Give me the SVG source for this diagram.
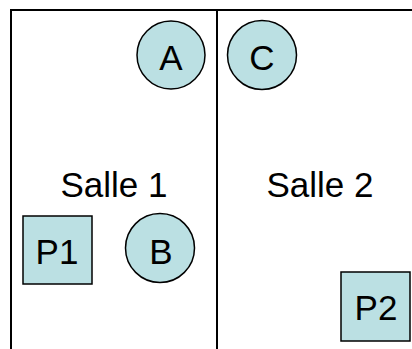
<svg xmlns="http://www.w3.org/2000/svg" width="412" height="349" viewBox="0 0 412 349">
<style>
.wall{stroke:#000;stroke-width:2;fill:none}
.node{fill:#BBE0E3;stroke:#000;stroke-width:1.5}
text{font-family:"Liberation Sans",Arial,sans-serif;font-size:35px;fill:#000;text-anchor:middle}
</style>
<rect width="412" height="349" fill="#fff"/>
<g id="rooms">
<path class="wall" d="M11,349 V10 H412 M217,10 V349"/>
<text x="114" y="197">Salle 1</text>
<text x="320" y="197">Salle 2</text>
</g>
<g id="connectors"></g>
<g id="A"><circle class="node" cx="171" cy="55" r="34"/><text x="171" y="70">A</text></g>
<g id="C"><circle class="node" cx="262" cy="55" r="34.5"/><text x="262" y="70">C</text></g>
<g id="B"><circle class="node" cx="160" cy="248" r="34.5"/><text x="161" y="264">B</text></g>
<g id="P1"><rect class="node" x="23" y="216" width="69" height="68"/><text x="57" y="264">P1</text></g>
<g id="P2"><rect class="node" x="341" y="272" width="69" height="69"/><text x="376" y="320">P2</text></g>
</svg>
